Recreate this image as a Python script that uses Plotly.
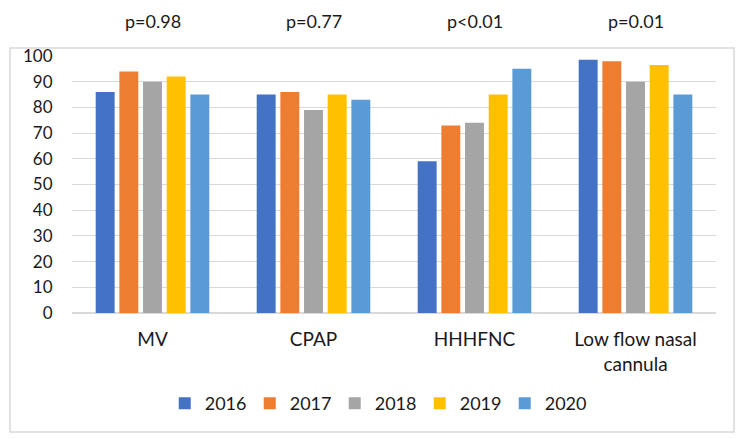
import plotly.graph_objects as go

categories = ["MV", "CPAP", "HHHFNC", "Low flow nasal<br>cannula"]
years = ["2016", "2017", "2018", "2019", "2020"]
values = {
    "2016": [86, 85, 59, 98.5],
    "2017": [94, 86, 73, 98],
    "2018": [90, 79, 74, 90],
    "2019": [92, 85, 85, 96.5],
    "2020": [85, 83, 95, 85],
}
p_values = ["p=0.98", "p=0.77", "p<0.01", "p=0.01"]
colors = ["#4472C4", "#ED7D31", "#A5A5A5", "#FFC000", "#5B9BD5"]

FONT = "Lato"
TXT = "#1a1a1a"

fig = go.Figure()
for yr, col in zip(years, colors):
    fig.add_trace(go.Bar(x=categories, y=values[yr], name=yr,
                         marker=dict(color=col, line=dict(width=0))))

for cat, p in zip(categories, p_values):
    fig.add_annotation(x=cat, y=1.136, xref="x", yref="paper", yanchor="middle",
                       text=p, showarrow=False,
                       font=dict(family=FONT, size=18, color=TXT))

# outer chart border
fig.add_shape(type="rect", xref="paper", yref="paper",
              x0=-0.0963, x1=1.028, y0=-0.463, y1=1.031,
              line=dict(color="#D9D9D9", width=1.5), fillcolor="rgba(0,0,0,0)", layer="below")

# page body has an 8px margin, so the margins are shifted to compensate
fig.update_layout(
    width=744, height=439,
    margin=dict(l=64, r=36, t=48, b=134),
    paper_bgcolor="white", plot_bgcolor="white",
    barmode="group", bargap=0.265, bargroupgap=0.2,
    font=dict(family=FONT, size=17, color=TXT),
    xaxis=dict(showgrid=False, showline=False, ticks="outside", ticklen=9,
               tickcolor="rgba(0,0,0,0)", tickfont=dict(size=19), automargin=False),
    yaxis=dict(range=[0, 100], dtick=10, showgrid=True, gridcolor="#D9D9D9",
               gridwidth=1, zeroline=True, zerolinecolor="#D9D9D9", zerolinewidth=1.5,
               showline=False, ticks="outside", ticklen=15, tickcolor="rgba(0,0,0,0)",
               tickfont=dict(size=17), automargin=False),
    legend=dict(orientation="h", x=0.144, xanchor="left", y=-0.28, yanchor="top",
                font=dict(size=18), itemwidth=30, entrywidth=40, traceorder="normal"),
)

fig.write_html("out.html")
